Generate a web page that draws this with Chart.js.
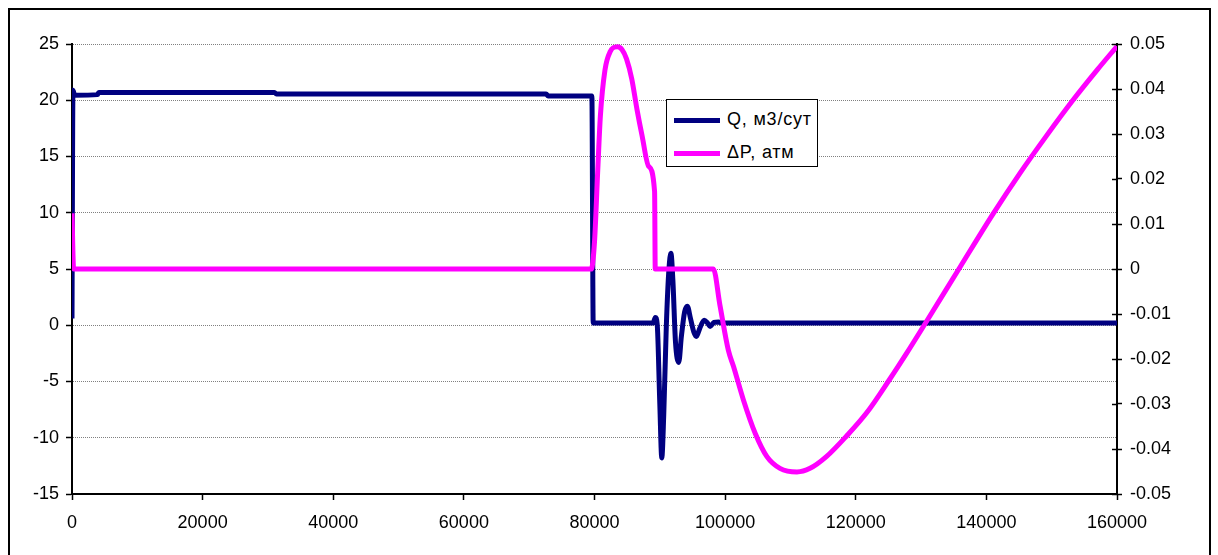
<!DOCTYPE html>
<html lang="ru">
<head>
  <meta charset="UTF-8" />
  <title>Q и ΔP</title>
  <script src="https://cdn.jsdelivr.net/npm/chart.js"></script>
  <style>
    body {
      margin: 0;
      background: #fff;
      overflow: hidden;
      font-family: 'Liberation Sans', Arial, sans-serif;
    }
    .wrap {
      position: relative;
      width: 1218px;
      height: 555px;
    }
    .frame {
      position: absolute;
      left: 8px;
      top: 8px;
      width: 1203px;
      height: 600px;
      box-sizing: border-box;
      border: 2px solid #000;
      pointer-events: none;
    }
    .legend {
      position: absolute;
      left: 666px;
      top: 99px;
      width: 152px;
      height: 68px;
      box-sizing: border-box;
      border: 1.5px solid #000;
      background: #fff;
      font-size: 18px;
      letter-spacing: 0.8px;
    }
    .legend .row {
      position: absolute;
      left: 7px;
      height: 22px;
      line-height: 22px;
      white-space: nowrap;
    }
    .legend .line {
      display: inline-block;
      width: 46px;
      height: 5px;
      vertical-align: middle;
      margin-right: 7px;
    }
  </style>
</head>
<body>
<div class="wrap">
  <canvas id="chart"></canvas>
  <div class="legend">
    <div class="row" style="top:8px"><span class="line" style="background:#000080"></span>Q, м3/сут</div>
    <div class="row" style="top:41px"><span class="line" style="background:#ff00ff"></span>ΔP, атм</div>
  </div>
  <div class="frame"></div>
</div>

<script>
// Q, м3/сут (left axis)
const qTime = [0, 150, 400, 3900, 4100, 31000, 31300, 72600, 72900, 79600, 79800,
  89000, 89300, 89600, 90000, 90300, 90600, 91000, 91400, 91700, 92000, 92400, 92900,
  93300, 93800, 94200, 94700, 95200, 95600, 96100, 96800, 97300, 97700, 98300, 99000,
  99500, 160000];
const qRate = [0.6, 20.9, 20.45, 20.5, 20.7, 20.7, 20.55, 20.55, 20.38, 20.38, 0.2,
  0.2, 0.7, 0.1, -7, -11.8, -8, 0, 5, 6.4, 4, -1.5, -3.3,
  -1, 1.2, 1.7, 0.6, -0.6, -1.0, -0.3, 0.45, 0.2, -0.1, 0.25, 0.3,
  0.2, 0.2];

// ΔP, атм (right axis)
const dpTime = [0, 250, 79500, 80000, 80500, 80900, 81600, 82400, 83500, 84200, 84900,
  85700, 86500, 87300, 88300, 89200, 89300, 98200, 99200, 100500, 101300, 102800,
  104600, 106400, 108400, 111000, 113000, 115500, 118600, 121700, 125200, 127800,
  130900, 136000, 141000, 145100, 149000, 153300, 157000, 160000];
const dpValue = [0.0124, 0, 0, 0.006, 0.022, 0.034, 0.0442, 0.0483, 0.0494, 0.0488, 0.0467,
  0.0423, 0.0355, 0.0295, 0.0228, 0.0172, 0, 0, -0.008, -0.0181, -0.0217, -0.0291,
  -0.0365, -0.0417, -0.0443, -0.0451, -0.0443, -0.0417, -0.0371, -0.0319, -0.0245, -0.0187,
  -0.0115, 0.0005, 0.0122, 0.0212, 0.0292, 0.0376, 0.0443, 0.0495];

const xMin = 0, xMax = 160000, xStep = 20000;
const qMin = -15, qMax = 25, qStep = 5;
const dpMin = -0.05, dpMax = 0.05, dpStep = 0.01;

const tickFont = { family: "'Liberation Sans', Arial, sans-serif", size: 18 };

// right axis ticks cross the axis line, draw the inner half
const crossTicks = {
  id: 'crossTicks',
  afterDraw(chart) {
    const s = chart.scales.y1;
    const ctx = chart.ctx;
    ctx.save();
    ctx.strokeStyle = '#000';
    ctx.lineWidth = 1.5;
    s.ticks.forEach(t => {
      const y = Math.round(s.getPixelForValue(t.value)) + 0.5;
      ctx.beginPath();
      ctx.moveTo(s.left - 5, y);
      ctx.lineTo(s.left, y);
      ctx.stroke();
    });
    ctx.restore();
  }
};

new Chart(document.getElementById('chart'), {
  type: 'line',
  data: {
    datasets: [
      {
        label: 'Q, м3/сут',
        data: qTime.map((t, i) => ({ x: t, y: qRate[i] })),
        borderColor: '#000080',
        borderWidth: 5,
        pointRadius: 0,
        cubicInterpolationMode: 'monotone',
        yAxisID: 'y',
        order: 2
      },
      {
        label: 'ΔP, атм',
        data: dpTime.map((t, i) => ({ x: t, y: dpValue[i] })),
        borderColor: '#ff00ff',
        borderWidth: 5,
        pointRadius: 0,
        cubicInterpolationMode: 'monotone',
        yAxisID: 'y1',
        order: 1
      }
    ]
  },
  options: {
    responsive: true,
    maintainAspectRatio: false,
    animation: false,
    layout: { padding: { top: 44, left: 0, right: 0, bottom: 0 } },
    plugins: { legend: { display: false }, tooltip: { enabled: false } },
    scales: {
      x: {
        type: 'linear',
        min: xMin, max: xMax,
        ticks: { stepSize: xStep, color: '#000', font: tickFont, padding: 12,
          maxRotation: 0, callback: v => String(v) },
        grid: { drawOnChartArea: false, tickLength: 6, tickColor: '#000', tickWidth: 1.5 },
        border: { color: '#000', width: 2 },
        afterFit(s) { s.height = 555 - 494; }
      },
      y: {
        position: 'left',
        min: qMin, max: qMax,
        ticks: { stepSize: qStep, color: '#000', font: tickFont, padding: 7,
          callback: v => String(v) },
        grid: { color: '#808080', lineWidth: 1, tickLength: 6, tickColor: '#000', tickWidth: 1.5 },
        border: { color: '#000', width: 2, dash: [1, 1] },
        afterFit(s) { s.width = 72; }
      },
      y1: {
        position: 'right',
        min: dpMin, max: dpMax,
        ticks: { stepSize: dpStep, color: '#000', font: tickFont, padding: 8,
          callback: v => String(Number(v.toFixed(2))) },
        grid: { drawOnChartArea: false, tickLength: 5, tickColor: '#000', tickWidth: 1.5 },
        border: { color: '#000', width: 2 },
        afterFit(s) { s.width = 1218 - 1117; }
      }
    }
  },
  plugins: [crossTicks]
});
</script>
</body>
</html>
